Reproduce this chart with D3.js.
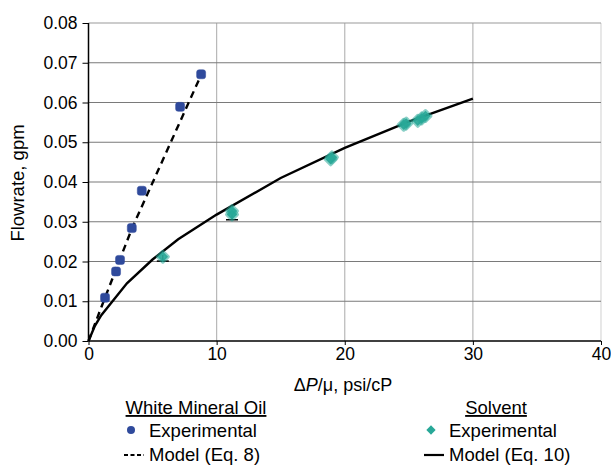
<!DOCTYPE html>
<html>
<head>
<meta charset="utf-8">
<script src="https://cdn.jsdelivr.net/npm/d3@7"></script>
<style>
	body { margin: 0; background: #fff; }
	text { font-family: "Liberation Sans", Arial, sans-serif; fill: #000; }
</style>
</head>
<body>
<div id="vis"></div>
<script type="text/javascript">
// data
var xTicks = [0, 10, 20, 30, 40];
var yTicks = [0, 0.01, 0.02, 0.03, 0.04, 0.05, 0.06, 0.07, 0.08];

var oilExp = [[1.29, 0.0109], [2.15, 0.0175], [2.46, 0.0204], [3.38, 0.0284],
	[4.16, 0.0378], [7.15, 0.0589], [8.79, 0.0671]];
var oilModel = [[0, 0], [1, 0.0085], [3.4, 0.0284], [8.8, 0.067]];

var solventExp = [[5.8, 0.0212], [11.2, 0.0318], [11.2, 0.0327], [18.9, 0.0457], [19.0, 0.0462],
	[24.6, 0.0544], [24.8, 0.0547], [25.7, 0.0554], [26.0, 0.056], [26.3, 0.0566]];
// lower error bar ends (x, y) where they show below the marker
var solventErr = [[5.8, 0.0201], [11.2, 0.0305]];
var solventModel = [[0, 0], [0.5, 0.0038], [1, 0.0065], [3, 0.0145], [5, 0.0205], [7, 0.0256],
	[10, 0.0318], [15, 0.041], [20, 0.0486], [25, 0.0552], [30, 0.061]];

const COLOR_OIL = "#2f4a9c";
const COLOR_SOLVENT = "#28a898";

var W = 611, H = 465;
var margin = { top: 23, right: 10, bottom: 124, left: 88.5 };
var svg = d3.select("#vis").append("svg").attr("width", W).attr("height", H);

var x = d3.scaleLinear().domain([0, 40]).range([margin.left, W - margin.right]);
var y = d3.scaleLinear().domain([0, 0.08]).range([H - margin.bottom, margin.top]);

// grid
svg.append("g").selectAll("line").data(xTicks.slice(1))
	.enter().append("line")
	.attr("x1", d => x(d)).attr("x2", d => x(d))
	.attr("y1", y(0)).attr("y2", y(0.08))
	.attr("stroke", d => d == 40 ? "#d8d8d8" : "#b8b8b8").attr("stroke-width", 1.2);
svg.append("g").selectAll("line").data(yTicks.slice(1))
	.enter().append("line")
	.attr("x1", x(0)).attr("x2", x(40))
	.attr("y1", d => y(d)).attr("y2", d => y(d))
	.attr("stroke", d => d == 0.08 ? "#999" : "#7a7a7a").attr("stroke-width", 1.2);

// axes
var xAxis = d3.axisBottom(x).tickValues(xTicks).tickSize(4).tickPadding(3).tickFormat(d3.format("d"));
var yAxis = d3.axisLeft(y).tickValues(yTicks).tickSize(6).tickPadding(5).tickFormat(d3.format(".2f"));
var gx = svg.append("g").attr("transform", "translate(0," + y(0) + ")").call(xAxis);
var gy = svg.append("g").attr("transform", "translate(" + x(0) + ",0)").call(yAxis);
[gx, gy].forEach(function(g) {
	g.select(".domain").attr("stroke", "#000").attr("stroke-width", 1.5);
	g.selectAll(".tick line").attr("stroke", "#000");
	g.selectAll(".tick text").style("font-size", "17.5px").attr("fill", "#000");
});
gx.select(".domain").attr("d", "M" + x(0) + ",0H" + x(40));
gy.select(".domain").attr("d", "M0," + y(0) + "V" + y(0.08));

// axis titles
var xt = svg.append("text").attr("x", 343).attr("y", 391).attr("text-anchor", "middle").style("font-size", "18px");
xt.append("tspan").text("Δ");
xt.append("tspan").style("font-style", "italic").text("P");
xt.append("tspan").text("/μ, psi/cP");
svg.append("text").attr("transform", "translate(24," + 183 + ") rotate(-90)")
	.attr("text-anchor", "middle").style("font-size", "18.5px").text("Flowrate, gpm");

// model lines
var line = d3.line().x(d => x(d[0])).y(d => y(d[1]));
svg.append("path").datum(solventModel).attr("d", line)
	.attr("fill", "none").attr("stroke", "#000").attr("stroke-width", 2.4);
svg.append("path").datum(oilModel).attr("d", line)
	.attr("fill", "none").attr("stroke", "#000").attr("stroke-width", 2.4).attr("stroke-dasharray", "7,5");

// error caps
svg.append("g").selectAll("line").data(solventErr)
	.enter().append("line")
	.attr("x1", d => x(d[0]) - 6).attr("x2", d => x(d[0]) + 6)
	.attr("y1", d => y(d[1])).attr("y2", d => y(d[1]))
	.attr("stroke", "#000").attr("stroke-width", 1.5);
svg.append("g").selectAll("line").data(solventErr)
	.enter().append("line")
	.attr("x1", d => x(d[0])).attr("x2", d => x(d[0]))
	.attr("y1", d => y(d[1])).attr("y2", d => y(d[1]) - 6)
	.attr("stroke", "#000").attr("stroke-width", 1.2);

// markers
svg.append("g").selectAll("rect").data(oilExp)
	.enter().append("rect")
	.attr("x", d => x(d[0]) - 4.5).attr("y", d => y(d[1]) - 4.5)
	.attr("width", 9).attr("height", 9).attr("rx", 2.5)
	.attr("fill", COLOR_OIL).attr("stroke", COLOR_OIL).attr("stroke-opacity", 0.5).attr("stroke-width", 1);
var diamond = d3.symbol().type(d3.symbolDiamond2).size(70);
svg.append("g").selectAll("path").data(solventExp)
	.enter().append("path")
	.attr("transform", d => "translate(" + x(d[0]) + "," + y(d[1]) + ")")
	.attr("d", diamond)
	.attr("fill", COLOR_SOLVENT).attr("fill-opacity", 0.9)
	.attr("stroke", COLOR_SOLVENT).attr("stroke-width", 3.5).attr("stroke-linejoin", "round").attr("stroke-opacity", 0.55);

// legend
var legendGroups = [
	{ title: "White Mineral Oil", cx: 196, markX: 131, textX: 149, color: COLOR_OIL, marker: "circle", dash: "4,2.5", lineX: 124 },
	{ title: "Solvent", cx: 496, markX: 431, textX: 449, color: COLOR_SOLVENT, marker: "diamond", dash: null, lineX: 424 }
];
legendGroups.forEach(function(g) {
	svg.append("text").attr("x", g.cx).attr("y", 414).attr("text-anchor", "middle")
		.style("font-size", "18.5px").style("text-decoration", "underline").text(g.title);
	if (g.marker == "circle") {
		svg.append("circle").attr("cx", g.markX).attr("cy", 430).attr("r", 4).attr("fill", g.color);
	} else {
		svg.append("path").attr("transform", "translate(" + g.markX + ",430)")
			.attr("d", d3.symbol().type(d3.symbolDiamond2).size(55)).attr("fill", g.color);
	}
	svg.append("text").attr("x", g.textX).attr("y", 437).style("font-size", "18.5px").text("Experimental");
	svg.append("line").attr("x1", g.lineX).attr("x2", g.lineX + 20).attr("y1", 455).attr("y2", 455)
		.attr("stroke", "#000").attr("stroke-width", 2.2).attr("stroke-dasharray", g.dash);
	svg.append("text").attr("x", g.textX).attr("y", 461).style("font-size", "18.5px")
		.text(g.marker == "circle" ? "Model (Eq. 8)" : "Model (Eq. 10)");
});
</script>
</body>
</html>
